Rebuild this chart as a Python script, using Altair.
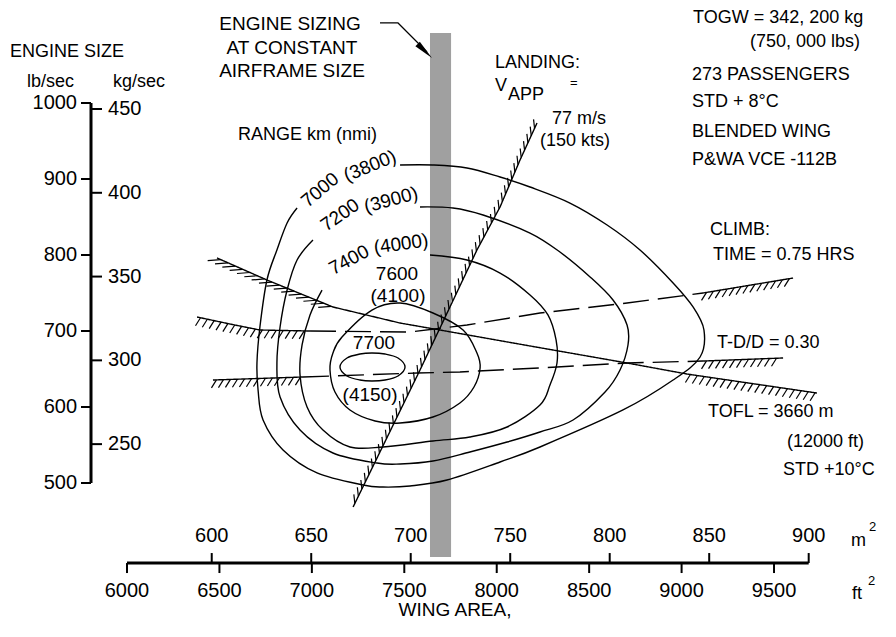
import altair as alt
import numpy as np
import pandas as pd

# ---------------- chart frame (data units: wing area ft^2, engine size lb/sec)
W, H = 880, 615
X_DOMAIN = [5356.3, 10116.5]
Y_DOMAIN = [315.8, 1125.0]
SX = W / (X_DOMAIN[1] - X_DOMAIN[0])   # px per ft^2
SY = H / (Y_DOMAIN[1] - Y_DOMAIN[0])   # px per lb/sec
xs = alt.Scale(domain=X_DOMAIN, nice=False, zero=False)
ys = alt.Scale(domain=Y_DOMAIN, nice=False, zero=False)

FONT_TXT = "Liberation Sans"
FONT_NUM = "Liberation Sans"

# ---------------- axes values
AX_X = 5805.3          # vertical engine-size scale position (ft^2)
AX_Y = 394.7           # horizontal wing-area scale position (lb/sec)
lb_ticks = [500, 600, 700, 800, 900, 1000]
kg_ticks = [250, 300, 350, 400, 450]
ft2_ticks = [6000, 6500, 7000, 7500, 8000, 8500, 9000, 9500]
m2_ticks = [600, 650, 700, 750, 800, 850, 900]
KG2LB = 2.20462
M22FT2 = 10.7639

# ---------------- range contours (ft^2, lb/sec)
c7000_x = [7477, 7655, 7839, 8018, 8180, 8396, 8597, 8775, 8954, 9062, 9121, 9100, 8954, 8683,
           8234, 8018, 7731, 7531, 7385, 7277, 7028, 6844, 6736, 6709, 6703, 6719, 6757, 6811, 6866, 6920]
c7000_y = [918.4, 918.4, 914.5, 902.6, 889.5, 868.4, 839.5, 806.6, 763.2, 731.6, 701.3, 665.8, 635.5, 596.1,
           547.4, 527.6, 503.9, 496.1, 494.7, 497.4, 513.2, 543.4, 582.9, 622.4, 657.9, 705.3, 767.1, 806.6, 842.1, 861.8]
c7200_x = [7585, 7763, 7926, 8180, 8342, 8505, 8629, 8705, 8710, 8667, 8586, 8413, 8234, 8056,
           7855, 7655, 7477, 7352, 7114, 6936, 6828, 6811, 6828, 6866, 6920, 7006]
c7200_y = [863.2, 861.8, 852.6, 828.9, 803.9, 771.1, 740.8, 707.9, 681.6, 648.7, 619.7, 582.9, 567.1, 553.9,
           540.8, 528.9, 525.0, 526.3, 539.5, 569.7, 613.2, 657.9, 705.3, 753.9, 793.4, 819.7]
c7400_x = [7639, 7839, 8018, 8180, 8277, 8321, 8326, 8288, 8234, 8056, 7855, 7655, 7385, 7206,
           7060, 6974, 6936, 6947, 6990, 7055]
c7400_y = [800.0, 793.4, 776.3, 747.4, 721.1, 688.2, 657.9, 628.9, 602.6, 573.7, 560.5, 555.3, 547.4, 547.4,
           569.7, 600.0, 642.1, 681.6, 721.1, 753.9]
c7600_x = [7477, 7655, 7818, 7893, 7910, 7877, 7801, 7655, 7477, 7342, 7206, 7125, 7098, 7114, 7163, 7325]
c7600_y = [736.8, 723.7, 701.3, 671.1, 651.3, 626.3, 605.3, 586.8, 578.9, 581.6, 596.1, 619.7, 648.7, 671.1, 692.1, 727.6]
c7700_x = [7152, 7190, 7260, 7325, 7396, 7466, 7504, 7466, 7396, 7325, 7260, 7190]
c7700_y = [652.6, 664.5, 669.7, 671.1, 669.7, 664.5, 652.6, 640.8, 635.5, 634.2, 635.5, 640.8]

# contour labels: text, x, y, angle
clab_t = ["7000", "(3800)", "7200", "(3900)", "7400", "(4000)", "7600", "(4100)", "7700", "(4150)"]
clab_x = [7044.0, 7314.5, 7152.2, 7428.1, 7200.9, 7482.2, 7460.5, 7465.9, 7336.1, 7314.5]
clab_y = [885.5, 917.1, 852.6, 872.4, 793.4, 814.5, 775.0, 746.1, 684.2, 615.8]
clab_a = [320, 338, 325, 345, 332, 352, 0, 0, 0, 0]

# ---------------- constraint lines
tofl_x = [6487, 6757, 7114, 7477, 7693, 8180, 8705, 9029, 9732]
tofl_y = [796.1, 767.1, 731.6, 710.5, 701.3, 680.3, 657.9, 643.4, 618.4]
climb_x = [6379, 6557, 6719, 6990, 7531, 7839, 8234, 8705, 9116, 9603]
climb_y = [718.4, 709.2, 701.3, 700.0, 698.7, 707.9, 723.7, 736.8, 750.0, 769.7]
tdd_x = [6465, 6952, 7569, 7801, 8326, 8705, 9116, 9549]
tdd_y = [635.5, 639.5, 644.7, 646.1, 652.6, 657.9, 660.5, 664.5]
land_x = [7223, 7585, 7747, 7893, 8018, 8126, 8218]
land_y = [468.4, 648.7, 731.6, 806.6, 863.2, 925.0, 973.7]

# engine sizing band (constant airframe size)
band_x = [7639, 7753]
band_y = [402.6, 1092.0]

# arrow from "ENGINE SIZING" note
arrow_x = [7368.6, 7465.9, 7622.8]
arrow_y = [1105.3, 1105.3, 1067.1]
arrowhead = (7610.9, 1068.4)

# ---------------- text annotations (left aligned)
txt_left = [
    ("ENGINE SIZE", 5367.1, 1067.1),
    ("lb/sec", 5459.1, 1027.6),
    ("kg/sec", 5924.3, 1027.6),
    ("RANGE km (nmi)", 6600.4, 957.9),
    ("TOGW = 342, 200 kg", 9061.7, 1111.8),
    ("(750, 000 lbs)", 9370.1, 1080.3),
    ("273 PASSENGERS", 9056.3, 1036.8),
    ("STD + 8°C", 9056.3, 1001.3),
    ("BLENDED WING", 9056.3, 961.8),
    ("P&WA VCE -112B", 9056.3, 925.0),
    ("CLIMB:", 9153.7, 832.9),
    ("TIME = 0.75 HRS", 9169.9, 800.0),
    ("LANDING:", 7990.7, 1052.6),
    ("V", 7990.7, 1022.4),
    ("APP", 8061.0, 1010.5),
    ("77 m/s", 8299.0, 978.9),
    ("(150 kts)", 8234.1, 950.0),
    ("T-D/D = 0.30", 9191.5, 684.2),
    ("TOFL = 3660 m", 9142.9, 593.4),
    ("(12000 ft)", 9570.2, 553.9),
    ("STD +10°C", 9548.6, 517.1),
    ("m", 9916.4, 423.7),
    ("ft", 9921.8, 353.9),
]
txt_sup = [("2", 10013.7, 442.1), ("2", 10008.3, 371.1), ("=", 8396.3, 1026.3)]
txt_center = [
    ("ENGINE SIZING", 6881.7, 1103.9),
    ("AT CONSTANT", 6892.5, 1072.4),
    ("AIRFRAME SIZE", 6892.5, 1042.1),
    ("WING AREA,", 7774.3, 332.9),
]


# ---------------- helpers
def X(f="x"):
    return alt.X(f"{f}:Q", scale=xs, axis=None)


def Y(f="y"):
    return alt.Y(f"{f}:Q", scale=ys, axis=None)


def hatch(xv, yv, spacing, dx, dy):
    """short hatch strokes along a polyline, offset given in pixels"""
    px = np.asarray(xv, float) * SX
    py = -np.asarray(yv, float) * SY
    cum = np.concatenate([[0], np.cumsum(np.hypot(np.diff(px), np.diff(py)))])
    s = np.arange(spacing / 2, cum[-1], spacing)
    hx, hy = np.interp(s, cum, px), np.interp(s, cum, py)
    return pd.DataFrame({"x": hx / SX, "y": -hy / SY, "x2": (hx + dx) / SX, "y2": -(hy + dy) / SY})


def piece(name, xv, yv, i0, i1, dash):
    return pd.DataFrame({"p": name, "o": range(i1 - i0 + 1), "x": xv[i0:i1 + 1],
                         "y": yv[i0:i1 + 1], "d": dash})


def rules(df, width):
    return alt.Chart(df).mark_rule(color="black", strokeWidth=width).encode(
        x=X("x"), y=Y("y"), x2="x2:Q", y2="y2:Q")


def texts(df, align, font, size, **kw):
    return alt.Chart(df).mark_text(align=align, baseline="middle", font=font, fontSize=size,
                                   color="black", **kw).encode(x=X(), y=Y(), text="t:N")


# ---------------- layers
band = alt.Chart(pd.DataFrame({"x": [band_x[0]], "x2": [band_x[1]], "y": [band_y[0]], "y2": [band_y[1]]})
                 ).mark_rect(fill="#a0a0a0").encode(x=X("x"), x2="x2:Q", y=Y("y"), y2="y2:Q")

# axis lines and ticks
tl = 10 / SX
tv = 10 / SY
axis_lines = pd.DataFrame({"x": [AX_X, ft2_ticks[0]], "x2": [AX_X, m2_ticks[-1] * M22FT2],
                           "y": [lb_ticks[0], AX_Y], "y2": [lb_ticks[-1], AX_Y]})
tick_rows = []
for v in lb_ticks:
    tick_rows.append((AX_X - tl, v, AX_X, v))
for v in kg_ticks:
    tick_rows.append((AX_X, v * KG2LB, AX_X + 1.1 * tl, v * KG2LB))
for v in ft2_ticks:
    tick_rows.append((v, AX_Y, v, AX_Y - tv))
for v in m2_ticks:
    tick_rows.append((v * M22FT2, AX_Y, v * M22FT2, AX_Y + tv))
ticks = pd.DataFrame(tick_rows, columns=["x", "y", "x2", "y2"])

lb_lab = pd.DataFrame({"x": AX_X, "y": lb_ticks, "t": [str(v) for v in lb_ticks]})
kg_lab = pd.DataFrame({"x": AX_X, "y": [v * KG2LB for v in kg_ticks], "t": [str(v) for v in kg_ticks]})
ft_lab = pd.DataFrame({"x": ft2_ticks, "y": AX_Y, "t": [str(v) for v in ft2_ticks]})
m2_lab = pd.DataFrame({"x": [v * M22FT2 for v in m2_ticks], "y": AX_Y, "t": [str(v) for v in m2_ticks]})

# contours
open_c = pd.concat([
    pd.DataFrame({"c": n, "o": range(len(a)), "x": a, "y": b})
    for n, a, b in [("7000", c7000_x, c7000_y), ("7200", c7200_x, c7200_y), ("7400", c7400_x, c7400_y)]])
closed_c = pd.concat([
    pd.DataFrame({"c": n, "o": range(len(a)), "x": a, "y": b})
    for n, a, b in [("7600", c7600_x, c7600_y), ("7700", c7700_x, c7700_y)]])
contour_open = alt.Chart(open_c).mark_line(interpolate="cardinal", color="black", strokeWidth=1.4).encode(
    x=X(), y=Y(), detail="c:N", order="o:Q")
contour_closed = alt.Chart(closed_c).mark_line(interpolate="cardinal-closed", color="black",
                                               strokeWidth=1.4).encode(x=X(), y=Y(), detail="c:N", order="o:Q")
clab = pd.DataFrame({"t": clab_t, "x": clab_x, "y": clab_y, "a": clab_a})
contour_labels = alt.Chart(clab).mark_text(font=FONT_NUM, fontSize=19, color="black", align="center",
                                           baseline="middle").encode(
    x=X(), y=Y(), text="t:N", angle=alt.Angle("a:Q", scale=None))

# constraint lines
pieces = pd.concat([
    piece("tofl", tofl_x, tofl_y, 0, len(tofl_x) - 1, "solid"),
    piece("climb_l", climb_x, climb_y, 0, 3, "solid"),
    piece("climb_m", climb_x, climb_y, 3, 8, "dash"),
    piece("climb_r", climb_x, climb_y, 8, 9, "solid"),
    piece("tdd_l", tdd_x, tdd_y, 0, 1, "solid"),
    piece("tdd_m", tdd_x, tdd_y, 1, 6, "dash"),
    piece("tdd_r", tdd_x, tdd_y, 6, 7, "solid"),
    piece("land", land_x, land_y, 0, len(land_x) - 1, "solid"),
])
constraints = alt.Chart(pieces).mark_line(color="black", strokeWidth=1.4).encode(
    x=X(), y=Y(), detail="p:N", order="o:Q",
    strokeDash=alt.StrokeDash("d:N", scale=alt.Scale(domain=["solid", "dash"], range=[[1, 0], [26, 9]]),
                              legend=None))

hatches = pd.concat([
    hatch(tofl_x[0:3], tofl_y[0:3], 8, -13, 1),
    hatch(tofl_x[7:9], tofl_y[7:9], 7, -5, 8),
    hatch(climb_x[0:4], climb_y[0:4], 7, -5, 8),
    hatch(climb_x[8:10], climb_y[8:10], 7, -5, 8),
    hatch(tdd_x[0:2], tdd_y[0:2], 7, -5, 8),
    hatch(tdd_x[6:8], tdd_y[6:8], 7, -5, 8),
    hatch(land_x, land_y, 8, -1, -9),
])

arrow = alt.Chart(pd.DataFrame({"o": range(3), "x": arrow_x, "y": arrow_y})).mark_line(
    color="black", strokeWidth=1.2).encode(x=X(), y=Y(), order="o:Q")
head = alt.Chart(pd.DataFrame({"x": [arrowhead[0]], "y": [arrowhead[1]]})).mark_point(
    shape="M0,-1L0.32,1L-0.32,1Z", filled=True, size=400, angle=134, color="black", opacity=1).encode(
    x=X(), y=Y())

tl_df = pd.DataFrame(txt_left, columns=["t", "x", "y"])
ts_df = pd.DataFrame(txt_sup, columns=["t", "x", "y"])
tc_df = pd.DataFrame(txt_center, columns=["t", "x", "y"])

chart = alt.layer(
    band,
    rules(axis_lines, 3),
    rules(ticks, 2),
    texts(lb_lab, "right", FONT_NUM, 20, dx=-14),
    texts(kg_lab, "left", FONT_NUM, 20, dx=17),
    texts(ft_lab, "center", FONT_NUM, 20, dy=28),
    texts(m2_lab, "center", FONT_NUM, 20, dy=-27),
    contour_open,
    contour_closed,
    contour_labels,
    constraints,
    rules(hatches, 1.2),
    arrow,
    head,
    texts(tl_df, "left", FONT_TXT, 18),
    texts(ts_df, "left", FONT_TXT, 13),
    texts(tc_df, "center", FONT_TXT, 19),
).properties(width=W, height=H, autosize=alt.AutoSizeParams(type="none"), padding=0,
             background="white").configure_view(stroke=None)

chart.save("out.html", embed_options={"renderer": "svg", "actions": False})
